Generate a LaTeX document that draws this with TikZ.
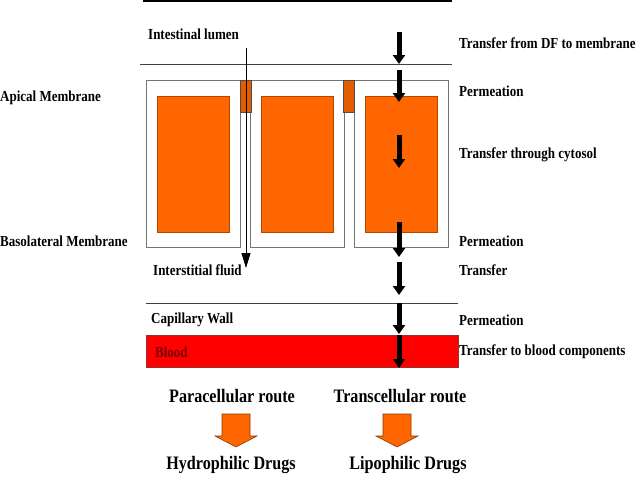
\documentclass[tikz,border=0pt]{standalone}
\usepackage{fontspec}
\setmainfont{Liberation Serif}[FakeStretch=0.85]
\usetikzlibrary{arrows.meta}

\definecolor{cellorange}{RGB}{255,102,0}
\definecolor{bloodred}{RGB}{255,0,0}
\definecolor{darkred}{RGB}{120,0,0}

\begin{document}
\begin{tikzpicture}[x=1pt, y=-1pt,
  line/.style={line width=0.9pt, draw=black!75},
  label/.style={font=\bfseries\fontsize{15.3}{17}\selectfont, text=black, inner sep=0pt},
  biglabel/.style={font=\bfseries\fontsize{19}{21}\selectfont, text=black, inner sep=0pt},
  cellbox/.style={draw=black!55, line width=0.9pt, fill=white},
  cytosol/.style={fill=cellorange, draw=cellorange!70!black, line width=0.6pt},
  junction/.style={fill=cellorange!90!black, draw=black!70, line width=0.6pt},
  flow/.style={-{Triangle[width=12pt,length=9pt]}, line width=5pt, draw=black},
  para/.style={-{Triangle[width=9pt,length=15pt]}, line width=0.8pt, draw=black},
  routearrow/.style={fill=cellorange, draw=cellorange!55!black, line width=0.6pt},
]
\useasboundingbox (0,0) rectangle (638,479);

% Dosage-form side
\draw[line width=2.2pt] (143,1) -- (452,1);
\draw[line] (140,64) -- (452,64);
\node[label, anchor=west] (lumen) at (148,34) {Intestinal lumen};

% Cells
\foreach \x/\n in {146/a,250/b,354/c} {
  \draw[cellbox] (\x,80) rectangle ++(94,167);
  \draw[cytosol] (\x+11,96) rectangle ++(72,136);
}
\draw[junction] (240,80) rectangle (251,112);
\draw[junction] (343,80) rectangle (354,112);

% Paracellular route
\coordinate (paratop) at (246,48);
\coordinate (paraend) at (246,268);
\draw[para] (paratop) -- (paraend);

% Capillary and blood
\draw[line] (146,303) -- (458,303);
\draw[fill=bloodred, draw=darkred!80, line width=0.8pt] (146,335) rectangle (458,367);
\node[label, anchor=west] (fluid) at (153,270) {Interstitial fluid};
\node[label, anchor=west] (wall) at (151,320) {Capillary Wall};
\node[label, anchor=west, text=darkred] (blood) at (155,352) {Blood};

% Transcellular route
\foreach \a/\b in {32/64,70/102,135/168,222/257,262/295,303/334,335/368} {
  \draw[flow] (399,\a) -- (399,\b);
}

% Steps
\node[label, anchor=west] (s1) at (459,43) {Transfer from DF to membrane};
\node[label, anchor=west] (s2) at (459,91) {Permeation};
\node[label, anchor=west] (s3) at (459,155) {Transfer through cytosol};
\node[label, anchor=west] (s4) at (459,241) {Permeation};
\node[label, anchor=west] (s5) at (459,270) {Transfer};
\node[label, anchor=west] (s6) at (459,320) {Permeation};
\node[label, anchor=west] (s7) at (459,352) {Transfer to blood components};

\node[label, anchor=west] (apical) at (0,98) {Apical Membrane};
\node[label, anchor=west] (baso) at (0,241) {Basolateral Membrane};

% Routes and drugs
\node[biglabel] (pararoute) at (232,396) {Paracellular route};
\node[biglabel] (transroute) at (400,396) {Transcellular route};
\foreach \c in {236,397} {
  \draw[routearrow] (\c-14,414) -- (\c+14,414) -- (\c+14,436) -- (\c+21,436)
    -- (\c,447) -- (\c-21,436) -- (\c-14,436) -- cycle;
}
\node[biglabel] (hydro) at (231,465) {Hydrophilic Drugs};
\node[biglabel] (lipo) at (408,465) {Lipophilic Drugs};

\end{tikzpicture}
\end{document}
